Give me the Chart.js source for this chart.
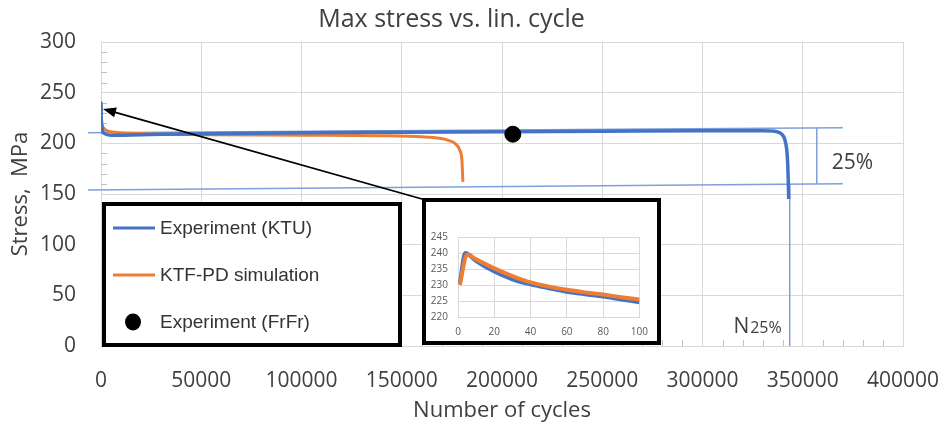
<!DOCTYPE html>
<html>
<head>
<meta charset="utf-8">
<script src="https://cdn.jsdelivr.net/npm/chart.js@4"></script>
<style>
  html, body { margin: 0; padding: 0; background: #fff; }
  #wrap { position: relative; width: 943px; height: 427px; }
  canvas { display: block; }
  #inset { position: absolute; left: 422px; top: 198px; width: 239px; height: 147px;
           border: 4px solid #000; box-sizing: border-box; background: #fff; }
</style>
</head>
<body>
<div id="wrap">
  <canvas id="mainChart" width="943" height="427"></canvas>
  <div id="inset"><canvas id="insetChart" width="231" height="139"></canvas></div>
</div>
<script>
// main chart data (cycles, MPa)
const ktuCycles = [0, 4, 100, 1500, 5000, 20000, 50000, 100000, 150000, 200000, 250000, 300000, 330000, 336000, 338500, 340000, 341000, 342000, 342500, 342800, 343000];
const ktuStress = [230, 240, 225, 210, 208, 208.5, 209.5, 210.5, 211, 211.5, 212, 212.5, 212.5, 212, 210.5, 208, 204, 194, 180, 162, 145];

const simCycles = [0, 5, 100, 1000, 2500, 7000, 20000, 50000, 100000, 140000, 160000, 169000, 174000, 176500, 179000, 180000, 180500];
const simStress = [230, 239.5, 225.5, 216, 213, 211, 209.5, 208.5, 208, 207.5, 206.5, 205, 202.5, 200, 193, 183.5, 162];

const frfrCycles = [205400];
const frfrStress = [209];

// 25% drop band and N25% marker
const bandStart = -6500, bandEnd = 370000;
const bandUpper = [210.5, 215.5];
const bandLower = [154, 160];
const bracketCycles = 357000;
const n25Cycles = 343500;
const arrowTip = [1000, 234];

// inset data (first 100 cycles)
const insetKtuCycles = [1, 4, 10, 20, 30, 40, 50, 60, 70, 80, 90, 100];
const insetKtuStress = [230.5, 240, 237.5, 234.2, 231.8, 230.2, 229, 227.9, 227.1, 226.4, 225.5, 224.6];
const insetSimCycles = [1, 5, 10, 20, 30, 40, 50, 60, 70, 80, 90, 100];
const insetSimStress = [230, 239.5, 238, 235.2, 232.8, 230.8, 229.5, 228.5, 227.7, 227, 226.2, 225.5];

const BLUE = '#4472C4';
const ORANGE = '#ED7D31';
const LIGHTBLUE = '#7f9fdc';
const GRID = '#d9d9d9';
const TEXT = '#404040';

Chart.defaults.font.family = "'Open Sans'";
Chart.defaults.color = TEXT;

const toXY = (xs, ys) => xs.map((x, i) => ({ x: x, y: ys[i] }));

const overlay = {
  id: 'overlay',
  beforeDatasetsDraw(chart) {
    const { ctx, scales: { x, y }, chartArea } = chart;
    ctx.save();
    // minor ticks
    ctx.strokeStyle = '#bfbfbf';
    ctx.lineWidth = 1;
    ctx.beginPath();
    for (let v = 10; v < 300; v += 10) {
      if (v % 50 === 0) continue;
      const py = Math.round(y.getPixelForValue(v)) + 0.5;
      ctx.moveTo(chartArea.left, py);
      ctx.lineTo(chartArea.left + 6, py);
    }
    for (let v = 10000; v < 400000; v += 10000) {
      if (v % 50000 === 0) continue;
      const px = Math.round(x.getPixelForValue(v)) + 0.5;
      ctx.moveTo(px, chartArea.bottom);
      ctx.lineTo(px, chartArea.bottom - 6);
    }
    ctx.stroke();

    // band lines
    ctx.strokeStyle = LIGHTBLUE;
    ctx.lineWidth = 1.5;
    ctx.beginPath();
    ctx.moveTo(x.getPixelForValue(bandStart), y.getPixelForValue(bandUpper[0]));
    ctx.lineTo(x.getPixelForValue(bandEnd), y.getPixelForValue(bandUpper[1]));
    ctx.moveTo(x.getPixelForValue(bandStart), y.getPixelForValue(bandLower[0]));
    ctx.lineTo(x.getPixelForValue(bandEnd), y.getPixelForValue(bandLower[1]));
    // bracket
    const f = (bracketCycles - bandStart) / (bandEnd - bandStart);
    const bx = x.getPixelForValue(bracketCycles);
    ctx.moveTo(bx, y.getPixelForValue(bandUpper[0] + f * (bandUpper[1] - bandUpper[0])));
    ctx.lineTo(bx, y.getPixelForValue(bandLower[0] + f * (bandLower[1] - bandLower[0])));
    // N25% vertical
    const nx = x.getPixelForValue(n25Cycles);
    ctx.moveTo(nx, y.getPixelForValue(160));
    ctx.lineTo(nx, y.getPixelForValue(0));
    ctx.stroke();
    ctx.restore();
  },
  afterDraw(chart) {
    const { ctx, scales: { x, y }, chartArea } = chart;
    ctx.save();
    // band labels
    const bx = x.getPixelForValue(bracketCycles);
    ctx.fillStyle = TEXT;
    ctx.font = "21px 'Open Sans'";
    ctx.textAlign = 'left';
    ctx.textBaseline = 'middle';
    ctx.fillText('25%', bx + 15, y.getPixelForValue(180.5));

    const nx = x.getPixelForValue(n25Cycles);
    ctx.textBaseline = 'alphabetic';
    ctx.textAlign = 'right';
    ctx.font = "16px 'Open Sans'";
    ctx.fillText('25%', nx - 8, chartArea.bottom - 13);
    const w = ctx.measureText('25%').width;
    ctx.font = "21px 'Open Sans'";
    ctx.fillText('N', nx - 9 - w, chartArea.bottom - 13);

    // legend box
    const lx = 102, ly = 202, lw = 300, lh = 145;
    ctx.fillStyle = '#fff';
    ctx.fillRect(lx, ly, lw, lh);
    ctx.strokeStyle = '#000';
    ctx.lineWidth = 4;
    ctx.strokeRect(lx + 2, ly + 2, lw - 4, lh - 4);
    const rows = [
      { label: 'Experiment (KTU)', color: BLUE, type: 'line', y: 228 },
      { label: 'KTF-PD simulation', color: ORANGE, type: 'line', y: 275 },
      { label: 'Experiment (FrFr)', color: '#000', type: 'dot', y: 322 }
    ];
    ctx.font = "19px 'Liberation Sans'";
    ctx.textAlign = 'left';
    ctx.textBaseline = 'middle';
    rows.forEach(r => {
      if (r.type === 'line') {
        ctx.strokeStyle = r.color;
        ctx.lineWidth = 3;
        ctx.beginPath();
        ctx.moveTo(113, r.y);
        ctx.lineTo(155, r.y);
        ctx.stroke();
      } else {
        ctx.fillStyle = r.color;
        ctx.beginPath();
        ctx.ellipse(133, r.y, 8, 8.5, 0, 0, Math.PI * 2);
        ctx.fill();
      }
      ctx.fillStyle = '#333';
      ctx.fillText(r.label, 160, r.y + 1);
    });

    // arrow from inset corner to the start of the curves
    const box = document.getElementById('inset');
    const tx = box.offsetLeft, ty = box.offsetTop + 1;
    const hx = x.getPixelForValue(arrowTip[0]), hy = y.getPixelForValue(arrowTip[1]);
    const ang = Math.atan2(hy - ty, hx - tx);
    ctx.strokeStyle = '#000';
    ctx.fillStyle = '#000';
    ctx.lineWidth = 1.8;
    ctx.beginPath();
    ctx.moveTo(tx, ty);
    ctx.lineTo(hx - 10 * Math.cos(ang), hy - 10 * Math.sin(ang));
    ctx.stroke();
    ctx.beginPath();
    ctx.moveTo(hx, hy);
    ctx.lineTo(hx - 13 * Math.cos(ang) + 5 * Math.sin(ang), hy - 13 * Math.sin(ang) - 5 * Math.cos(ang));
    ctx.lineTo(hx - 13 * Math.cos(ang) - 5 * Math.sin(ang), hy - 13 * Math.sin(ang) + 5 * Math.cos(ang));
    ctx.closePath();
    ctx.fill();
    ctx.restore();
  }
};

new Chart(document.getElementById('mainChart').getContext('2d'), {
  type: 'scatter',
  data: {
    datasets: [
      {
        label: 'Experiment (FrFr)',
        data: toXY(frfrCycles, frfrStress),
        backgroundColor: '#000',
        borderColor: '#000',
        pointRadius: 8,
        order: 0
      },
      {
        label: 'Experiment (KTU)',
        data: toXY(ktuCycles, ktuStress),
        showLine: true,
        borderColor: BLUE,
        borderWidth: 3.5,
        pointRadius: 0,
        cubicInterpolationMode: 'monotone',
        order: 1
      },
      {
        label: 'KTF-PD simulation',
        data: toXY(simCycles, simStress),
        showLine: true,
        borderColor: ORANGE,
        borderWidth: 3,
        pointRadius: 0,
        cubicInterpolationMode: 'monotone',
        order: 2
      }
    ]
  },
  options: {
    responsive: false,
    animation: false,
    layout: { padding: { right: 40 } },
    plugins: {
      legend: { display: false },
      tooltip: { enabled: false },
      title: {
        display: true,
        text: 'Max stress vs. lin. cycle',
        color: TEXT,
        font: { size: 25, weight: 'normal' },
        padding: { top: 5, bottom: 7 }
      }
    },
    scales: {
      x: {
        type: 'linear',
        min: 0,
        max: 400000,
        ticks: { stepSize: 50000, padding: 22, color: TEXT, font: { size: 21 }, callback: v => String(v) },
        grid: { color: GRID, drawTicks: false },
        border: { color: GRID },
        title: { display: true, text: 'Number of cycles', color: TEXT, font: { size: 22 }, padding: { top: 0, bottom: 3 } },
        afterFit: s => { s.height = 81; s.paddingLeft = 0; s.paddingRight = 0; }
      },
      y: {
        min: 0,
        max: 300,
        ticks: { stepSize: 50, padding: 25, color: TEXT, font: { size: 21 } },
        grid: { color: GRID, drawTicks: false },
        border: { color: GRID },
        title: { display: true, text: 'Stress,  MPa', color: TEXT, font: { size: 22 }, padding: { top: 8, bottom: 0 } },
        afterFit: s => { s.width = 101; }
      }
    }
  },
  plugins: [overlay]
});

new Chart(document.getElementById('insetChart').getContext('2d'), {
  type: 'scatter',
  data: {
    datasets: [
      {
        data: toXY(insetSimCycles, insetSimStress),
        showLine: true,
        borderColor: ORANGE,
        borderWidth: 4,
        pointRadius: 0,
        cubicInterpolationMode: 'monotone',
        order: 0
      },
      {
        data: toXY(insetKtuCycles, insetKtuStress),
        showLine: true,
        borderColor: BLUE,
        borderWidth: 4,
        pointRadius: 0,
        cubicInterpolationMode: 'monotone',
        order: 1
      }
    ]
  },
  options: {
    responsive: false,
    animation: false,
    layout: { padding: { top: 35, right: 13 } },
    plugins: { legend: { display: false }, tooltip: { enabled: false } },
    scales: {
      x: {
        type: 'linear',
        min: 0,
        max: 100,
        ticks: { stepSize: 20, padding: 9, color: '#595959', font: { size: 10 } },
        grid: { color: GRID, drawTicks: false },
        border: { color: GRID },
        afterFit: s => { s.height = 24; }
      },
      y: {
        min: 220,
        max: 245,
        ticks: { stepSize: 5, padding: 10, color: '#595959', font: { size: 10 } },
        grid: { color: GRID, drawTicks: false },
        border: { color: GRID },
        afterFit: s => { s.width = 32; }
      }
    }
  }
});
</script>
</body>
</html>
